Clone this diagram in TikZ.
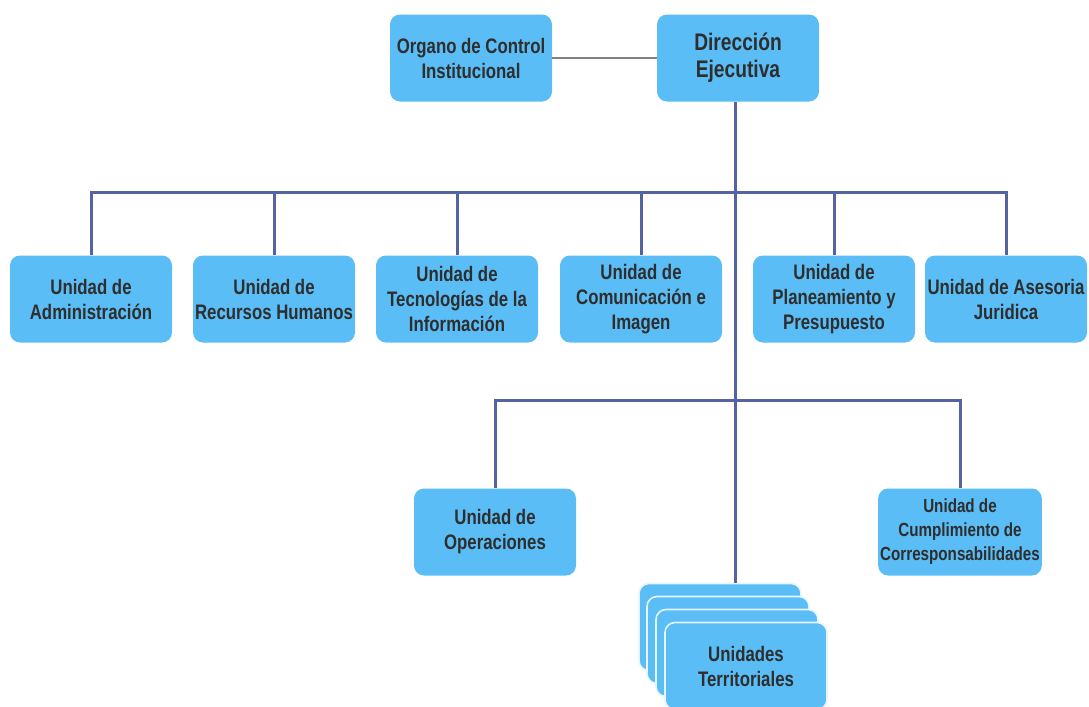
\documentclass[tikz,border=0pt]{standalone}
\usepackage{fontspec}
\setmainfont{Liberation Sans}[FakeStretch=0.8]
\usetikzlibrary{positioning}

\definecolor{boxblue}{HTML}{5BBDF5}
\definecolor{linkblue}{HTML}{5563A0}
\definecolor{textgray}{HTML}{2E2E2E}

\begin{document}
\begin{tikzpicture}[x=0.5pt, y=-0.5pt,
    unit/.style={fill=boxblue, draw=none, rounded corners=5pt, minimum width=81pt, minimum height=43.5pt,
                 align=center, inner sep=1pt, text=textgray, font=\fontsize{10.5}{12.5}\selectfont\bfseries},
    stackbox/.style={unit, draw=white!85!boxblue, line width=0.8pt},
    bus/.style={draw=linkblue, line width=1.5pt}]
    \useasboundingbox (0,0) rectangle (1089,707);

    % Top level
    \node[unit, font=\fontsize{12}{13.5}\selectfont\bfseries] (dir) at (738,58) {Dirección\\Ejecutiva};
    \node[unit] (oci) at (471,58) {Organo de Control\\Institucional};

    % Units reporting to the direction
    \node[unit] (adm)  at (91,299)   {Unidad de\\Administración};
    \node[unit] (rrhh) at (274,299)  {Unidad de\\Recursos Humanos};
    \node[unit] (tec)  at (457,299)  {Unidad de\\Tecnologías de la\\Información};
    \node[unit] (com)  at (641,299)  {Unidad de\\Comunicación e\\Imagen};
    \node[unit] (plan) at (834,299)  {Unidad de\\Planeamiento y\\Presupuesto};
    \node[unit] (ases) at (1006,299) {Unidad de Asesoria\\Juridica};

    % Operational level
    \node[unit] (ope)  at (495,532) {Unidad de\\Operaciones};
    \node[unit, font=\fontsize{9.5}{12}\selectfont\bfseries] (cump) at (960,532) {Unidad de\\Cumplimiento de\\Corresponsabilidades};

    % Territorial units (stacked)
    \node[stackbox] (t1) at (720,627) {};
    \node[stackbox] (t2) at (728,640) {};
    \node[stackbox] (t3) at (737,653) {};
    \node[stackbox] (t4) at (746,666) {Unidades\\Territoriales};

    % Connectors
    \coordinate (busA) at (0,192);
    \coordinate (busB) at (0,400);
    \coordinate (trunk) at (735,102);
    \draw[gray, line width=0.6pt] (oci.east) -- (dir.west);
    \draw[bus] (trunk) -- (trunk |- t1.north);
    \draw[bus] (adm.north) -- (adm.north |- busA) -- (ases.north |- busA) -- (ases.north);
    \foreach \u in {rrhh, tec, com, plan}
        \draw[bus] (\u.north) -- (\u.north |- busA);
    \draw[bus] (ope.north) -- (ope.north |- busB) -- (cump.north |- busB) -- (cump.north);
\end{tikzpicture}
\end{document}
